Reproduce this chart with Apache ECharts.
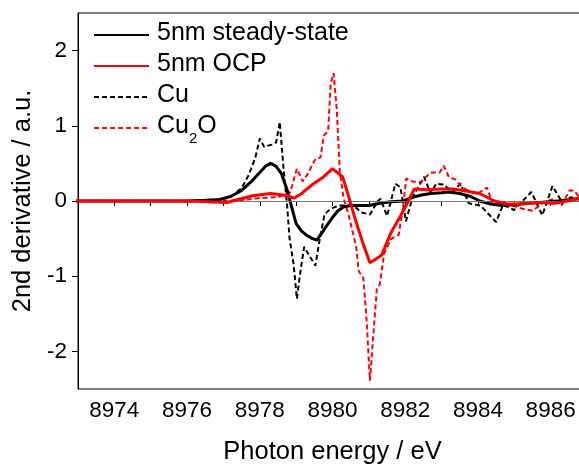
<!DOCTYPE html>
<html>
<head>
<meta charset="utf-8">
<script src="https://cdn.jsdelivr.net/npm/echarts@6/dist/echarts.min.js"></script>
<style>
html, body { margin: 0; padding: 0; background: #fff; }
#chart { width: 579px; height: 466px; }
</style>
</head>
<body>
<div id="chart"></div>
<script>
// series names (legend order)
const seriesNames = ['5nm steady-state', '5nm OCP', 'Cu', 'Cu2O'];

// 5nm steady-state (black solid)
const steadyE = [8972.8, 8975, 8976, 8976.5, 8976.9, 8977.2, 8977.5, 8977.75, 8978.0, 8978.15, 8978.3, 8978.45, 8978.6, 8978.75, 8978.9, 8979.0, 8979.15, 8979.3, 8979.45, 8979.57, 8979.7, 8979.85, 8980.0, 8980.15, 8980.3, 8980.5, 8980.7, 8981.0, 8981.3, 8981.6, 8981.95, 8982.2, 8982.45, 8982.7, 8983.0, 8983.2, 8983.5, 8983.8, 8984.05, 8984.35, 8984.65, 8985.0, 8985.35, 8985.7, 8986.2, 8986.8, 8987.2];
const steadyV = [0, 0, 0, 0.01, 0.02, 0.06, 0.14, 0.25, 0.38, 0.46, 0.50, 0.46, 0.36, 0.15, -0.12, -0.30, -0.40, -0.46, -0.50, -0.52, -0.43, -0.32, -0.22, -0.13, -0.08, -0.06, -0.06, -0.06, -0.03, -0.01, 0.0, 0.05, 0.08, 0.10, 0.11, 0.12, 0.10, 0.06, 0.0, -0.04, -0.06, -0.05, -0.03, -0.02, 0.0, 0.03, 0.04];

// 5nm OCP (red solid)
const ocpE = [8972.8, 8976, 8976.6, 8977.1, 8977.4, 8977.8, 8978.3, 8978.65, 8978.95, 8979.15, 8979.45, 8979.75, 8980.0, 8980.28, 8980.45, 8980.65, 8980.85, 8981.03, 8981.35, 8981.6, 8981.95, 8982.25, 8982.6, 8983.0, 8983.3, 8983.6, 8984.05, 8984.45, 8984.8, 8985.2, 8985.65, 8986.1, 8986.45, 8986.8, 8987.2];
const ocpV = [0, 0, -0.01, -0.02, 0.02, 0.07, 0.10, 0.08, 0.04, 0.10, 0.22, 0.32, 0.43, 0.32, 0.05, -0.28, -0.58, -0.82, -0.72, -0.43, -0.13, 0.16, 0.15, 0.16, 0.16, 0.14, 0.10, 0.0, -0.04, -0.04, -0.02, -0.03, 0.0, 0.04, 0.05];

// Cu reference (black dashed)
const cuE = [8972.8, 8976, 8976.8, 8977.2, 8977.5, 8977.7, 8977.88, 8978.0, 8978.12, 8978.33, 8978.45, 8978.55, 8978.65, 8978.75, 8978.82, 8978.93, 8979.02, 8979.12, 8979.22, 8979.38, 8979.53, 8979.65, 8979.78, 8979.95, 8980.2, 8980.45, 8980.65, 8980.78, 8981.03, 8981.25, 8981.32, 8981.5, 8981.73, 8981.87, 8982.02, 8982.2, 8982.52, 8982.7, 8982.85, 8983.05, 8983.3, 8983.52, 8983.75, 8984.07, 8984.5, 8984.69, 8984.99, 8985.47, 8985.77, 8986.05, 8986.32, 8986.55, 8986.8, 8987.2];
const cuV = [0, 0, 0.01, 0.06, 0.17, 0.35, 0.58, 0.83, 0.72, 0.75, 0.78, 1.05, 0.45, -0.05, -0.5, -0.84, -1.30, -0.93, -0.61, -0.74, -0.86, -0.5, -0.18, -0.10, -0.06, -0.06, -0.09, -0.15, -0.18, 0.0, 0.03, -0.2, 0.23, 0.18, -0.27, 0.05, 0.32, 0.10, 0.23, 0.22, 0.12, 0.23, -0.03, -0.06, -0.28, -0.05, -0.12, 0.12, -0.19, 0.20, -0.02, 0.05, 0.02, 0.0];

// Cu2O reference (red dashed)
const cu2oE = [8972.8, 8977, 8977.5, 8978.0, 8978.5, 8978.84, 8979.02, 8979.18, 8979.32, 8979.53, 8979.67, 8979.76, 8979.88, 8979.95, 8980.03, 8980.12, 8980.2, 8980.3, 8980.45, 8980.65, 8980.72, 8980.85, 8980.94, 8981.03, 8981.12, 8981.22, 8981.3, 8981.42, 8981.62, 8981.82, 8981.93, 8982.03, 8982.2, 8982.42, 8982.7, 8982.95, 8983.06, 8983.2, 8983.4, 8983.57, 8983.8, 8984.0, 8984.25, 8984.4, 8984.6, 8984.9, 8985.2, 8985.5, 8985.8, 8986.1, 8986.3, 8986.52, 8986.65, 8986.8, 8987.2];
const cu2oV = [0, 0, 0.01, 0.04, 0.05, 0.12, 0.43, 0.26, 0.36, 0.56, 0.58, 0.87, 0.93, 1.56, 1.70, 1.2, 0.4, 0.05, -0.2, -0.6, -0.93, -1.03, -1.6, -2.39, -1.8, -1.17, -1.11, -0.7, -0.5, -0.45, -0.12, 0.3, 0.26, 0.25, 0.38, 0.38, 0.47, 0.32, 0.28, 0.18, 0.12, 0.10, 0.18, -0.04, -0.03, -0.05, -0.1, -0.13, -0.02, 0.03, -0.06, 0.14, 0.14, 0.04, 0.05];

// axis ticks
const xTicks = [8973, 8974, 8975, 8976, 8977, 8978, 8979, 8980, 8981, 8982, 8983, 8984, 8985, 8986, 8987];
const xLabels = [8974, 8976, 8978, 8980, 8982, 8984, 8986];
const yTicks = [-2, -1, 0, 1, 2];

function pairs(xs, ys) {
    return xs.map((x, i) => [x, ys[i]]);
}

const FONT = '"Liberation Sans", Arial, sans-serif';

const chart = echarts.init(document.getElementById('chart'), null, { renderer: 'canvas' });

const option = {
    animation: false,
    backgroundColor: '#fff',
    grid: {
        left: 78, top: 13, right: -8, bottom: 77,
        outerBoundsMode: 'none',
        show: true, borderColor: '#000', borderWidth: 1
    },
    legend: {
        data: seriesNames,
        orient: 'vertical',
        left: 93, top: 21,
        padding: 0,
        itemGap: 6,
        itemWidth: 55,
        itemHeight: 14,
        itemStyle: { opacity: 0 },
        formatter: function (name) {
            if (name === 'Cu2O') return '{n|Cu}{s|2}{n|O}';
            return '{n|' + name + '}';
        },
        textStyle: {
            fontFamily: FONT, fontSize: 25, color: '#000', padding: [0, 0, 0, 3],
            rich: {
                n: { fontFamily: FONT, fontSize: 25, color: '#000', lineHeight: 28, verticalAlign: 'top' },
                s: { fontFamily: FONT, fontSize: 15, color: '#000', lineHeight: 6, padding: [17, 0, 0, 0], verticalAlign: 'top' }
            }
        }
    },
    xAxis: {
        type: 'value',
        min: 8973, max: 8987,
        name: 'Photon energy / eV',
        nameLocation: 'middle',
        nameGap: 50,
        nameTextStyle: { fontFamily: FONT, fontSize: 25.5, color: '#000' },
        axisLine: { lineStyle: { color: '#000', width: 1 } },
        axisTick: { customValues: xTicks, length: 5, lineStyle: { color: '#000' } },
        axisLabel: {
            customValues: xLabels, margin: 10, fontFamily: FONT, fontSize: 22.5, color: '#000',
            formatter: function (v) { return String(v); }
        },
        splitLine: { show: false }
    },
    yAxis: {
        type: 'value',
        min: -2.5, max: 2.5,
        name: '2nd derivative / a.u.',
        nameLocation: 'middle',
        nameGap: 41,
        nameTextStyle: { fontFamily: FONT, fontSize: 25.5, color: '#000' },
        axisLine: { lineStyle: { color: '#000', width: 1 } },
        axisTick: { customValues: yTicks, length: 6, lineStyle: { color: '#000' } },
        axisLabel: {
            customValues: yTicks, margin: 11, fontFamily: FONT, fontSize: 22.5, color: '#000',
            formatter: function (v) { return String(v); }
        },
        splitLine: { show: false }
    },
    series: [
        {
            name: 'Cu', type: 'line', symbol: 'none', z: 2,
            data: pairs(cuE, cuV),
            lineStyle: { color: '#000', width: 2, type: [5, 3] },
            itemStyle: { color: '#000' },
            markLine: {
                silent: true, symbol: 'none', label: { show: false },
                lineStyle: { color: '#777', width: 1, type: 'solid' },
                data: [{ yAxis: 0 }]
            }
        },
        {
            name: 'Cu2O', type: 'line', symbol: 'none', z: 3,
            data: pairs(cu2oE, cu2oV),
            lineStyle: { color: '#ff0000', width: 2, type: [5, 3] },
            itemStyle: { color: '#ff0000' }
        },
        {
            name: '5nm steady-state', type: 'line', symbol: 'none', z: 4,
            data: pairs(steadyE, steadyV),
            lineStyle: { color: '#000', width: 3 },
            itemStyle: { color: '#000' }
        },
        {
            name: '5nm OCP', type: 'line', symbol: 'none', z: 5,
            data: pairs(ocpE, ocpV),
            lineStyle: { color: '#ff0000', width: 3 },
            itemStyle: { color: '#ff0000' }
        }
    ]
};

chart.setOption(option);
</script>
</body>
</html>
